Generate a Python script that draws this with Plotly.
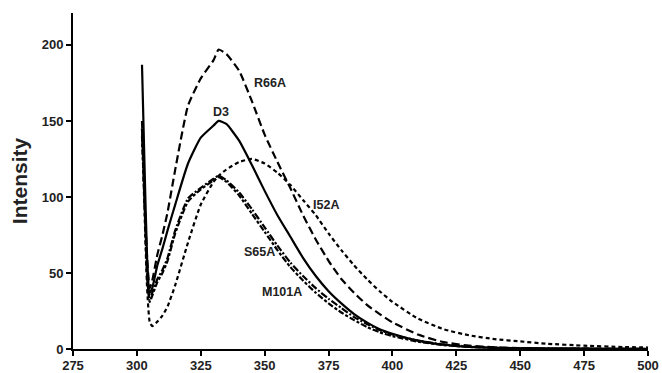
import plotly.graph_objects as go

wavelength = [302, 303, 304, 305, 306, 308, 310, 312, 315, 320, 325, 330, 332, 335, 340, 345, 350,
              355, 360, 365, 370, 375, 380, 385, 390, 395, 400, 410, 420, 430, 440, 450, 460, 475, 490, 500]

D3 = [187, 120, 60, 37, 40, 55, 66, 78, 95, 122, 139, 147, 150, 148, 137, 121, 104,
      88, 74, 60, 48, 38, 30, 23, 17.5, 13, 10, 5.5, 2.8, 1.4, 0.8, 0.5, 0.3, 0.2, 0.1, 0]
R66A = [145, 100, 60, 40, 45, 62, 75, 90, 118, 160, 178, 190, 197, 194, 183, 163, 141,
        123, 106, 88, 72, 58, 46, 37, 29, 23, 17.5, 9.5, 4.5, 2.2, 1.1, 0.6, 0.3, 0.2, 0.1, 0]
I52A = [145, 90, 40, 18, 15, 18, 22, 28, 42, 70, 95, 110, 114, 118, 123, 125, 122,
        116, 108, 98, 88, 76, 65, 55, 46, 38, 31, 20, 13, 9, 6.5, 5, 3.5, 2.2, 1.3, 1]
S65A = [150, 100, 50, 33, 37, 46, 52, 60, 78, 99, 106, 112, 114, 111, 103, 92, 80,
        68, 57, 48, 40, 33, 27, 21, 16.5, 12.5, 9.5, 5.5, 3, 1.6, 0.9, 0.5, 0.3, 0.2, 0.1, 0]
M101A = [140, 95, 48, 31, 35, 44, 50, 58, 76, 97, 105, 111, 113, 110, 101, 89, 77,
         65, 54, 45, 37, 30, 24, 19, 14.5, 11, 8.5, 4.8, 2.6, 1.4, 0.8, 0.45, 0.3, 0.15, 0.1, 0]

series_names = ["D3", "R66A", "I52A", "S65A", "M101A"]
series_values = [D3, R66A, I52A, S65A, M101A]
dashes = ["solid", "8px,4px", "4px,3px", "7px,2px,2px,2px", "6px,2px,3px,2px"]

label_x = [332.8, 352, 374, 348, 356.6]
label_y = [156, 175, 95, 64, 37.5]

x_ticks = [275, 300, 325, 350, 375, 400, 425, 450, 475, 500]
y_ticks = [0, 50, 100, 150, 200]

fig = go.Figure()
for name, vals, dash in zip(series_names, series_values, dashes):
    fig.add_trace(go.Scatter(
        x=wavelength, y=vals, mode="lines", name=name,
        line=dict(color="black", width=2.2, dash=dash, shape="spline", smoothing=0.5),
    ))

for name, lx, ly in zip(series_names, label_x, label_y):
    fig.add_annotation(x=lx, y=ly, text="<b>" + name + "</b>", showarrow=False,
                       font=dict(family="Liberation Sans, Arial", size=12.5, color="#222"))

fig.update_layout(
    width=662, height=373,
    margin=dict(l=73, r=14, t=13, b=24),
    paper_bgcolor="white", plot_bgcolor="white",
    showlegend=False,
    font=dict(family="Liberation Sans, Arial", color="#222"),
)
fig.update_xaxes(
    range=[275, 500], tickvals=x_ticks, ticktext=["<b>%d</b>" % v for v in x_ticks],
    showline=True, linecolor="black", linewidth=2, ticks="outside", ticklen=5,
    tickwidth=2, tickcolor="black", showgrid=False, zeroline=False, automargin=False,
    tickfont=dict(size=13, color="#222"), ticklabelstandoff=-2,
)
fig.update_yaxes(
    range=[0, 221], tickvals=y_ticks, ticktext=["<b>%d</b>" % v for v in y_ticks],
    showline=True, linecolor="black", linewidth=2, ticks="outside", ticklen=5,
    tickwidth=2, tickcolor="black", showgrid=False, zeroline=False, automargin=False,
    tickfont=dict(size=13, color="#222"),
    title=dict(text="<b>Intensity</b>", font=dict(size=21, color="#222"), standoff=8),
)

fig.write_html("out.html", config={"displayModeBar": False},
               post_script="document.body.style.margin='0';document.body.style.overflow='hidden';")
